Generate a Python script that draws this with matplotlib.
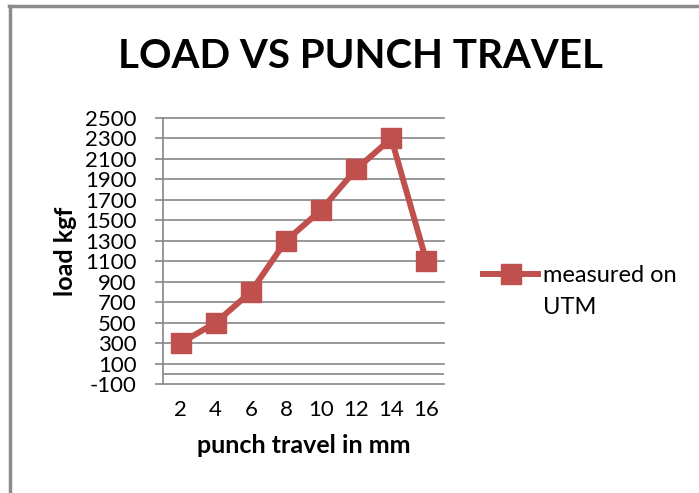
import matplotlib.pyplot as plt
from matplotlib.lines import Line2D

# data
punch_travel = ["2", "4", "6", "8", "10", "12", "14", "16"]
load_kgf = [300, 500, 800, 1300, 1600, 2000, 2300, 1100]
y_ticks = list(range(-100, 2501, 200))
series_label = ["measured on", "UTM"]

RED = "#C0504D"
GRID = "#868686"

plt.rcParams["font.family"] = ["Lato", "DejaVu Sans"]

fig = plt.figure(figsize=(6.99, 4.93), dpi=100)
ax = fig.add_axes([163 / 699, 1 - 384 / 493, 281 / 699, 266 / 493])

x = list(range(len(punch_travel)))
ax.plot(x, load_kgf, color=RED, linewidth=4.3, marker="s", markersize=14,
        label=series_label[0], zorder=3)

ax.set_xlim(-0.5, len(punch_travel) - 0.5)
ax.set_ylim(-100, 2500)
ax.set_yticks(y_ticks)
ax.set_yticklabels([str(v) for v in y_ticks], fontsize=16)
ax.set_xticks(x)
ax.set_xticklabels(punch_travel, fontsize=16)
ax.tick_params(axis="y", direction="out", length=6, width=1.2, color=GRID, pad=13)
ax.tick_params(axis="x", length=0, pad=11.5)

ax.grid(axis="y", color=GRID, linewidth=1.2)
for gl in ax.get_ygridlines():
    gl.set_clip_on(False)
ax.axhline(0, color=GRID, linewidth=1.2, zorder=2)

for side in ["top", "right", "bottom"]:
    ax.spines[side].set_visible(False)
ax.spines["left"].set_color(GRID)
ax.spines["left"].set_linewidth(1.2)

ax.set_ylabel("load kgf", fontsize=18, fontweight="bold", labelpad=6)
ax.set_xlabel("punch travel in mm", fontsize=18, fontweight="bold", labelpad=10)

fig.text(361 / 699, 1 - 57 / 493, "LOAD VS PUNCH TRAVEL", fontsize=29,
         fontweight="bold", ha="center", va="center")

# legend: handle beside the first line, second line wrapped underneath
ax.legend(loc="center left", bbox_to_anchor=(483 / 699, 1 - 276 / 493),
          bbox_transform=fig.transFigure, frameon=False, fontsize=17,
          handlelength=2.35, handletextpad=0.2, borderpad=0, borderaxespad=0)
fig.text(543 / 699, 1 - 308 / 493, series_label[1], fontsize=17,
         ha="left", va="center")

# chart frame (top and left edges visible)
fig.add_artist(Line2D([9 / 699, 1], [1 - 6 / 493, 1 - 6 / 493],
                      transform=fig.transFigure, color="#8C8C8C", linewidth=2.5))
fig.add_artist(Line2D([10 / 699, 10 / 699], [0, 1 - 6 / 493],
                      transform=fig.transFigure, color="#8C8C8C", linewidth=2.5))

fig.savefig("out.png", dpi=100)
